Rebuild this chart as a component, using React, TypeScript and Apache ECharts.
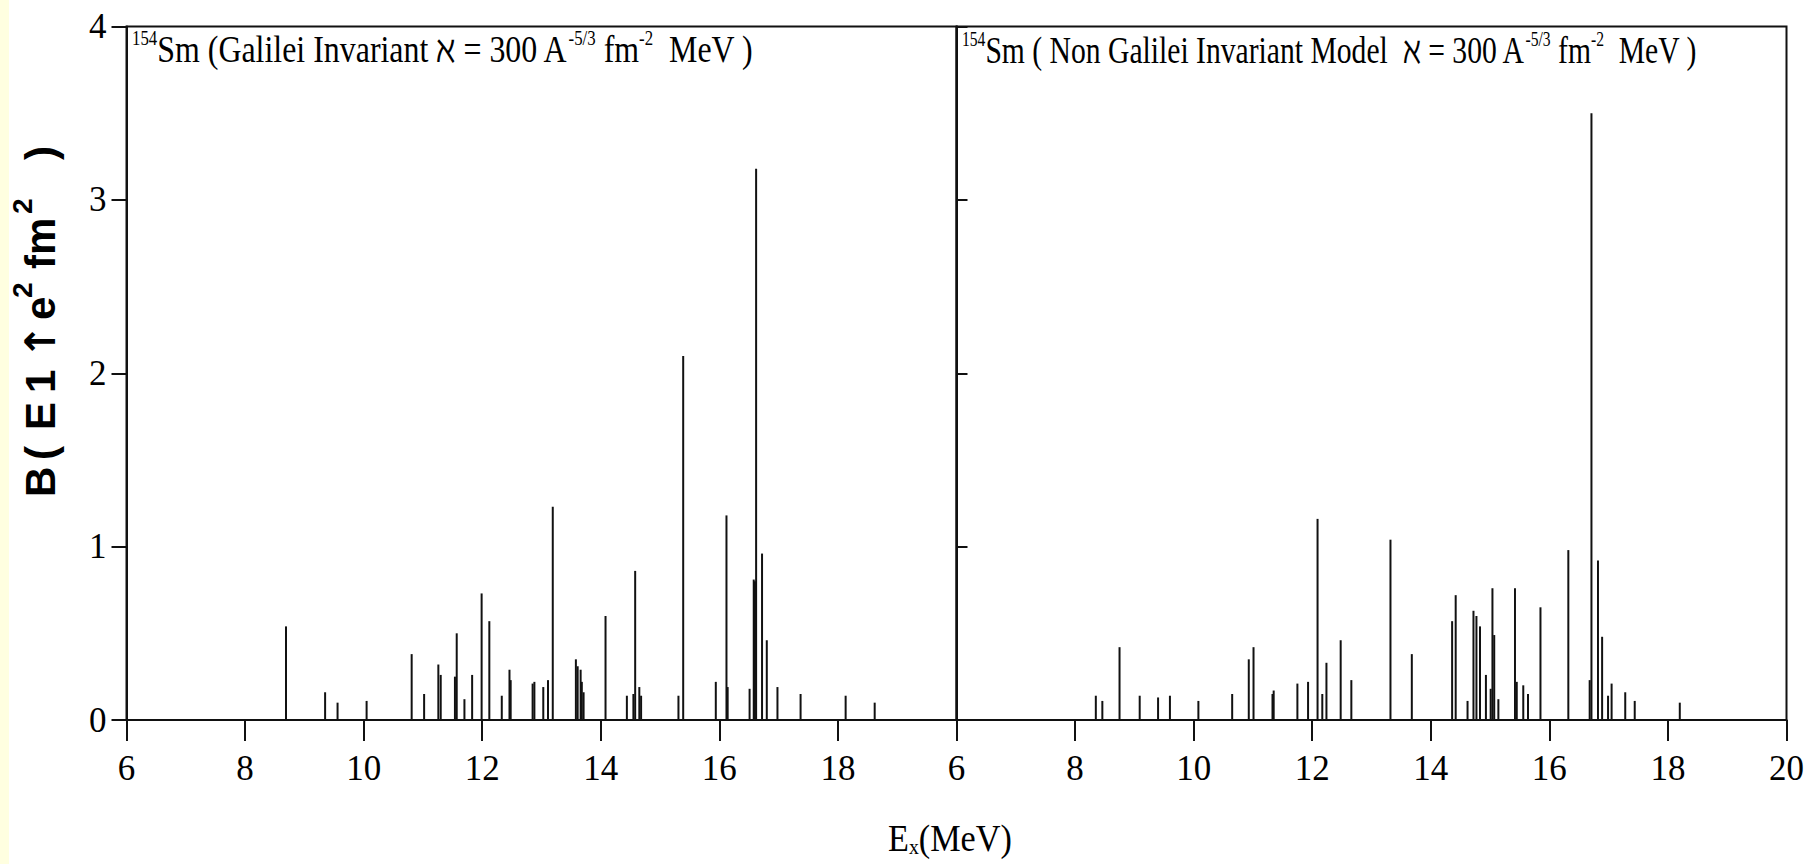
import React, { useEffect, useRef } from "react";
import * as echarts from "echarts";

const xTicks = [6, 8, 10, 12, 14, 16, 18, 20];
const yTicks = [0, 1, 2, 3, 4];

// Left panel: Galilei invariant
const leftEnergy = [
  8.69, 9.35, 9.56, 10.05, 10.81, 11.02, 11.26, 11.3, 11.54, 11.57, 11.7, 11.83,
  11.99, 12.12, 12.33, 12.46, 12.48, 12.85, 12.88, 13.03, 13.11, 13.19, 13.58,
  13.61, 13.66, 13.68, 13.71, 14.08, 14.44, 14.55, 14.58, 14.65, 14.68, 15.31,
  15.39, 15.94, 16.12, 16.14, 16.51, 16.58, 16.6, 16.62, 16.72, 16.8, 16.98,
  17.37, 18.13, 18.62,
];
const leftB = [
  0.54, 0.16, 0.1, 0.11, 0.38, 0.15, 0.32, 0.26, 0.25, 0.5, 0.12, 0.26,
  0.73, 0.57, 0.14, 0.29, 0.23, 0.21, 0.22, 0.19, 0.23, 1.23, 0.35,
  0.31, 0.29, 0.22, 0.16, 0.6, 0.14, 0.15, 0.86, 0.19, 0.14, 0.14,
  2.1, 0.22, 1.18, 0.19, 0.18, 0.81, 0.8, 3.18, 0.96, 0.46, 0.19,
  0.15, 0.14, 0.1,
];

// Right panel: non Galilei invariant model
const rightEnergy = [
  8.35, 8.46, 8.75, 9.09, 9.4, 9.6, 10.08, 10.65, 10.93, 11.01, 11.33, 11.35,
  11.75, 11.93, 12.09, 12.17, 12.24, 12.48, 12.66, 13.32, 13.68, 14.36, 14.42,
  14.62, 14.72, 14.77, 14.83, 14.93, 15.01, 15.04, 15.07, 15.14, 15.42, 15.45,
  15.56, 15.64, 15.85, 16.32, 16.68, 16.71, 16.82, 16.89, 16.99, 17.05, 17.28,
  17.44, 18.2,
];
const rightB = [
  0.14, 0.11, 0.42, 0.14, 0.13, 0.14, 0.11, 0.15, 0.35, 0.42, 0.15, 0.17,
  0.21, 0.22, 1.16, 0.15, 0.33, 0.46, 0.23, 1.04, 0.38, 0.57, 0.72,
  0.11, 0.63, 0.6, 0.54, 0.26, 0.18, 0.76, 0.49, 0.12, 0.76, 0.22,
  0.2, 0.15, 0.65, 0.98, 0.23, 3.5, 0.92, 0.48, 0.14, 0.21, 0.16,
  0.11, 0.1,
];

const leftTitle = "(Galilei Invariant \u2135 = 300 A";
const rightTitle = "( Non Galilei Invariant Model  \u2135 = 300 A";
// y-axis title pieces: [text, offset along the text direction, superscript?]
const yTitlePieces: [string, number, boolean][] = [
  ["B", 0, false],
  ["(", 37, false],
  ["E", 67, false],
  ["1", 104, false],
  ["\u2191", 138, false],
  ["e", 177, false],
  ["2", 199, true],
  ["fm", 228, false],
  ["2", 283, true],
  [")", 337, false],
];

const SERIF = "'Liberation Serif', 'Times New Roman', 'DejaVu Serif', serif";
const SANS = "'Liberation Sans', Arial, 'DejaVu Sans', sans-serif";

export default function App() {
  const ref = useRef<HTMLDivElement>(null);

  useEffect(() => {
    if (!ref.current) return;
    const chart = echarts.init(ref.current, undefined, { renderer: "svg" });

    const renderStick = (params: any, api: any) => {
      const x = api.value(0);
      const v = api.value(1);
      const p0 = api.coord([x, 0]);
      const p1 = api.coord([x, v]);
      return {
        type: "line",
        shape: { x1: p0[0], y1: p0[1], x2: p1[0], y2: p1[1] },
        style: { stroke: "#111", lineWidth: 2 },
      };
    };

    const xAxisBase = (gridIndex: number, hideLast: boolean) => ({
      type: "value",
      gridIndex,
      min: xTicks[0],
      max: xTicks[xTicks.length - 1],
      interval: 2,
      splitLine: { show: false },
      axisLine: { show: true, onZero: false, lineStyle: { color: "#111", width: 2 } },
      axisTick: { show: true, inside: false, length: 21, lineStyle: { color: "#111", width: 2 } },
      axisLabel: {
        show: true,
        margin: 31,
        fontSize: 35,
        fontFamily: SERIF,
        color: "#000",
        formatter: (v: number) => (hideLast && v === 20 ? "" : String(v)),
      },
    });

    const yAxisBase = (gridIndex: number, showLabels: boolean) => ({
      type: "value",
      gridIndex,
      min: yTicks[0],
      max: yTicks[yTicks.length - 1],
      interval: 1,
      splitLine: { show: false },
      axisLine: { show: true, lineStyle: { color: "#111", width: 2 } },
      axisTick: {
        show: true,
        inside: !showLabels,
        length: showLabels ? 15 : 11,
        lineStyle: { color: "#111", width: 2 },
      },
      axisLabel: {
        show: showLabels,
        margin: 20,
        fontSize: 35,
        fontFamily: SERIF,
        color: "#000",
      },
    });

    const titleRich = {
      sup: { fontSize: 20, fontFamily: SERIF, lineHeight: 20, verticalAlign: "top", fill: "#000" },
      big: { fontSize: 38, fontFamily: SERIF, lineHeight: 42, fill: "#000" },
    };

    const yTitleChildren = yTitlePieces.map(([t, off, sup]) => ({
      type: "text",
      x: off,
      y: sup ? -18 : 0,
      style: {
        text: t,
        fontSize: sup ? 28 : 42,
        fontWeight: "bold",
        fontFamily: t === "\u2191" ? "'DejaVu Sans', " + SANS : SANS,
        fill: "#000",
        textAlign: "left",
        textVerticalAlign: "middle",
      },
    }));

    chart.setOption({
      animation: false,
      backgroundColor: "#ffffff",
      grid: [
        { left: 126.5, top: 26.5, width: 830, height: 693.5, show: true, borderColor: "#111", borderWidth: 2, backgroundColor: "transparent" },
        { left: 956.5, top: 26.5, width: 830, height: 693.5, show: true, borderColor: "#111", borderWidth: 2, backgroundColor: "transparent" },
      ],
      xAxis: [xAxisBase(0, true), xAxisBase(1, false)],
      yAxis: [yAxisBase(0, true), yAxisBase(1, false)],
      series: [
        {
          type: "custom",
          xAxisIndex: 0,
          yAxisIndex: 0,
          renderItem: renderStick,
          encode: { x: 0, y: 1 },
          data: leftEnergy.map((e, i) => [e, leftB[i]]),
        },
        {
          type: "custom",
          xAxisIndex: 1,
          yAxisIndex: 1,
          renderItem: renderStick,
          encode: { x: 0, y: 1 },
          data: rightEnergy.map((e, i) => [e, rightB[i]]),
        },
      ],
      graphic: [
        {
          type: "rect",
          left: 0,
          top: 0,
          shape: { x: 0, y: 0, width: 9, height: 864 },
          style: { fill: "#FFFFE0" },
          silent: true,
        },
        {
          type: "text",
          x: 132,
          y: 50,
          scaleX: 0.84,
          style: {
            text: `{sup|154}{big|Sm }{big|${leftTitle}}{sup|-5/3}{big| fm}{sup|-2}{big|  MeV )}`,
            rich: titleRich,
            textAlign: "left",
            textVerticalAlign: "middle",
          },
        },
        {
          type: "text",
          x: 962,
          y: 50,
          scaleX: 0.78,
          style: {
            text: `{sup|154}{big|Sm }{big|${rightTitle}}{sup|-5/3}{big| fm}{sup|-2}{big|  MeV )}`,
            rich: titleRich,
            textAlign: "left",
            textVerticalAlign: "middle",
          },
        },
        {
          type: "group",
          x: 40,
          y: 497,
          rotation: Math.PI / 2,
          children: yTitleChildren,
        },
        {
          type: "text",
          x: 888,
          y: 838,
          scaleX: 0.9,
          style: {
            text: `{m|E}{s|x}{m|(MeV)}`,
            rich: {
              m: { fontSize: 38, fontFamily: SERIF, lineHeight: 40, fill: "#000" },
              s: { fontSize: 22, fontFamily: SERIF, lineHeight: 22, verticalAlign: "bottom", fill: "#000" },
            },
            textAlign: "left",
            textVerticalAlign: "middle",
          },
        },
      ],
    });

    return () => chart.dispose();
  }, []);

  return (
    <div
      ref={ref}
      style={{ position: "absolute", left: 0, top: 0, width: 1816, height: 864, background: "#fff" }}
    />
  );
}
